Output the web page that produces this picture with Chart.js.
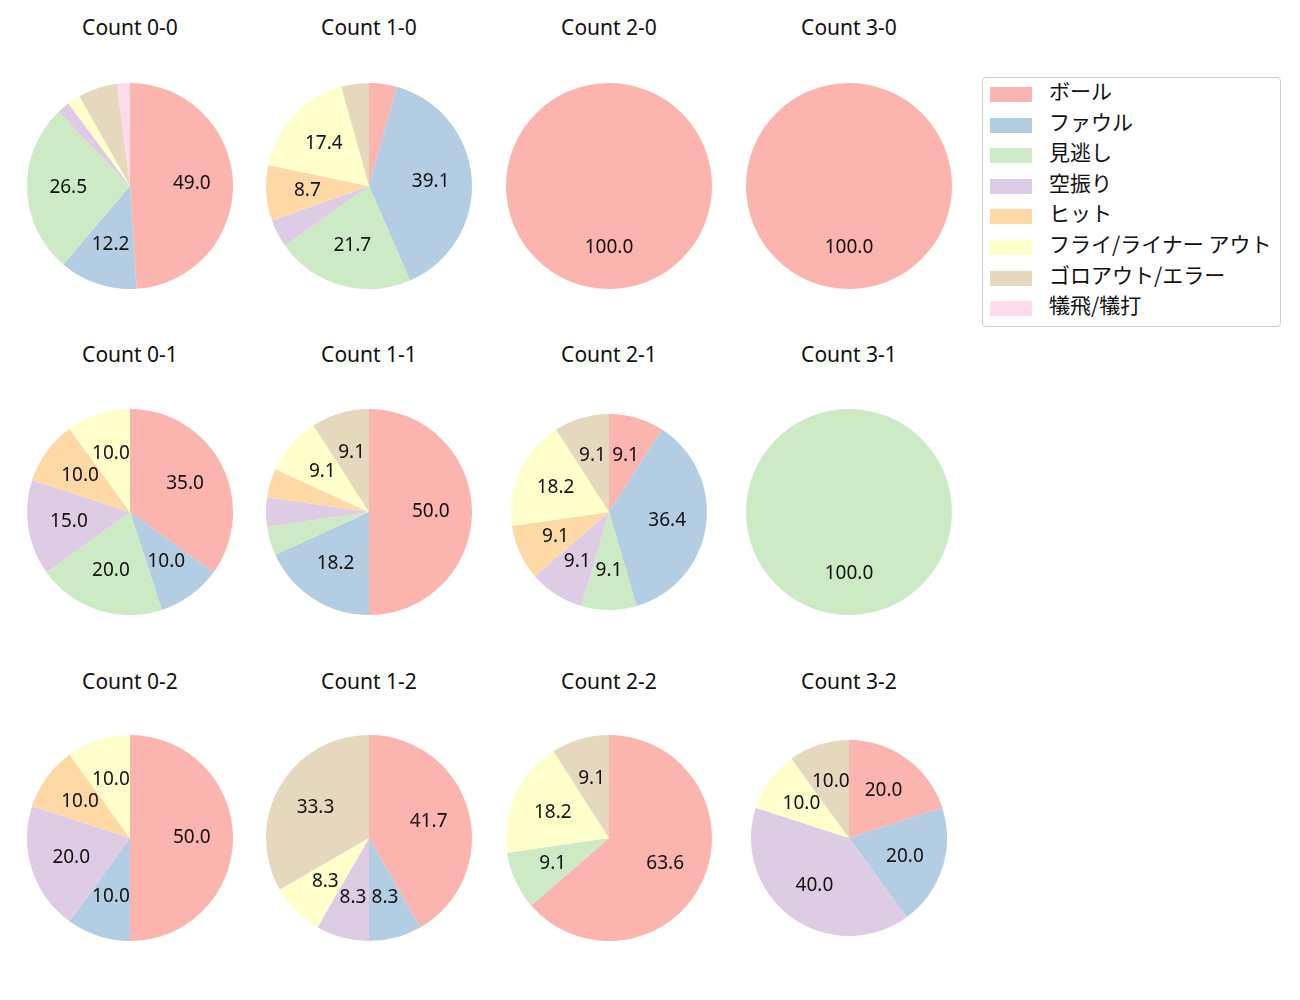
<!DOCTYPE html>
<html>
<head>
<meta charset="utf-8">
<script src="https://cdn.jsdelivr.net/npm/chart.js@4/dist/chart.umd.min.js"></script>
<style>
  body { margin: 0; background: #fff; font-family: "Noto Sans", "Noto Sans CJK JP", sans-serif; }
  #wrap { position: relative; width: 1300px; height: 1000px; }
  .pie { position: absolute; }
  .ttl { position: absolute; width: 240px; text-align: center; font-size: 21px; color: #111; line-height: 1; }
  #legend { position: absolute; left: 982px; top: 77px; width: 297px; height: 248px; border: 1px solid #d0d0d0; border-radius: 4px; }
  .row { position: absolute; left: 7px; height: 20px; font-size: 21px; color: #111; font-family: "Noto Sans CJK JP", sans-serif; }
  .sw { position: absolute; left: 0; top: 2px; width: 42px; height: 15px; }
  .lb { position: absolute; left: 59px; top: -10px; white-space: nowrap; }
</style>
</head>
<body>
<div id="wrap"><div id="legend"></div></div>
<script>
const categories = ['ボール', 'ファウル', '見逃し', '空振り', 'ヒット', 'フライ/ライナー アウト', 'ゴロアウト/エラー', '犠飛/犠打'];
const colors = ['#fbb4ae', '#b3cde3', '#ccebc5', '#decbe4', '#fed9a6', '#ffffcc', '#e5d8bd', '#fddaec'];

const titles = ['Count 0-0', 'Count 1-0', 'Count 2-0', 'Count 3-0',
                'Count 0-1', 'Count 1-1', 'Count 2-1', 'Count 3-1',
                'Count 0-2', 'Count 1-2', 'Count 2-2', 'Count 3-2'];

// pitch counts per category, same order as categories
const count00 = [24, 6, 13, 1, 0, 1, 3, 1];
const count10 = [1, 9, 5, 1, 2, 4, 1, 0];
const count20 = [1, 0, 0, 0, 0, 0, 0, 0];
const count30 = [1, 0, 0, 0, 0, 0, 0, 0];
const count01 = [7, 2, 4, 3, 2, 2, 0, 0];
const count11 = [11, 4, 1, 1, 1, 2, 2, 0];
const count21 = [1, 4, 1, 1, 1, 2, 1, 0];
const count31 = [0, 0, 1, 0, 0, 0, 0, 0];
const count02 = [5, 1, 0, 2, 1, 1, 0, 0];
const count12 = [5, 1, 0, 1, 0, 1, 4, 0];
const count22 = [7, 0, 1, 0, 0, 2, 1, 0];
const count32 = [2, 2, 0, 4, 0, 1, 1, 0];

const panels = [count00, count10, count20, count30, count01, count11, count21, count31, count02, count12, count22, count32];

// layout
const colX = [130, 369, 609, 849];
const rowY = [186, 512, 838];
const titleY = [17, 344, 671];
const radii = [103, 103, 103, 103, 103, 103, 98, 103, 103, 103, 103, 98];
const SIZE = 240;

const pctLabels = {
  id: 'pctLabels',
  afterDatasetsDraw(chart) {
    const ctx = chart.ctx;
    const data = chart.data.datasets[0].data;
    const total = data.reduce((a, b) => a + b, 0);
    ctx.save();
    ctx.font = '19px "Noto Sans", sans-serif';
    ctx.fillStyle = '#111';
    ctx.textAlign = 'center';
    ctx.textBaseline = 'middle';
    chart.getDatasetMeta(0).data.forEach((arc, i) => {
      const pct = data[i] / total * 100;
      if (pct < 7) return;
      const p = arc.getProps(['x', 'y', 'startAngle', 'endAngle', 'outerRadius'], true);
      const mid = (p.startAngle + p.endAngle) / 2;
      const r = p.outerRadius * 0.6;
      ctx.fillText(pct.toFixed(1), p.x + Math.cos(mid) * r, p.y + Math.sin(mid) * r);
    });
    ctx.restore();
  }
};

const wrap = document.getElementById('wrap');
panels.forEach((vals, k) => {
  const col = k % 4, row = Math.floor(k / 4);
  const t = document.createElement('div');
  t.className = 'ttl';
  t.style.left = (colX[col] - SIZE / 2) + 'px';
  t.style.top = titleY[row] + 'px';
  t.textContent = titles[k];
  wrap.appendChild(t);

  const c = document.createElement('canvas');
  c.className = 'pie';
  c.width = SIZE; c.height = SIZE;
  c.style.left = (colX[col] - SIZE / 2) + 'px';
  c.style.top = (rowY[row] - SIZE / 2) + 'px';
  c.style.width = SIZE + 'px'; c.style.height = SIZE + 'px';
  wrap.appendChild(c);

  new Chart(c.getContext('2d'), {
    type: 'pie',
    data: {
      labels: categories,
      datasets: [{ data: vals, backgroundColor: colors, borderWidth: 0 }]
    },
    options: {
      responsive: false,
      animation: false,
      radius: radii[k],
      layout: { padding: 0 },
      plugins: { legend: { display: false }, tooltip: { enabled: false } }
    },
    plugins: [pctLabels]
  });
});

const legend = document.getElementById('legend');
categories.forEach((name, i) => {
  const r = document.createElement('div');
  r.className = 'row';
  r.style.top = (7 + i * 30.6) + 'px';
  r.innerHTML = `<div class="sw" style="background:${colors[i]}"></div><div class="lb">${name}</div>`;
  legend.appendChild(r);
});
</script>
</body>
</html>
